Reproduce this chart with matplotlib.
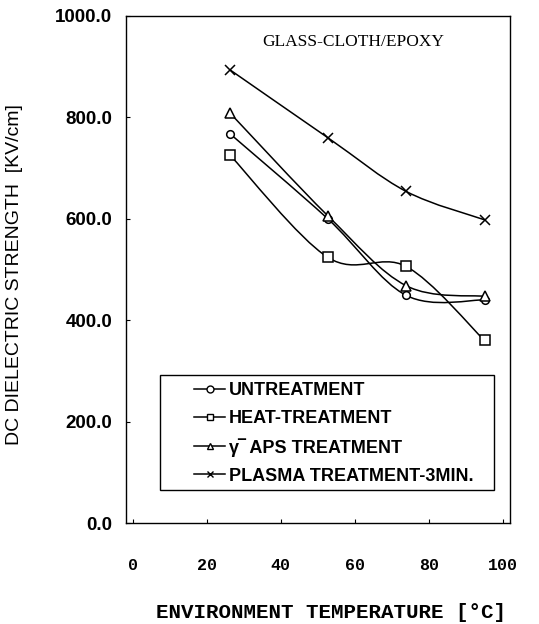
import matplotlib
matplotlib.use("Agg")
import matplotlib.pyplot as plt
from matplotlib.path import Path
from matplotlib.patches import PathPatch, Rectangle
from matplotlib.lines import Line2D

# Data
temps = [25, 50, 70, 90]
untreat = [768, 600, 449, 440]
heat = [726, 524, 506, 360]
aps = [809, 606, 468, 447]
plasma = [894, 760, 654, 598]

labels = ["UNTREATMENT", "HEAT-TREATMENT", "\u03b3\u203e APS TREATMENT",
          "PLASMA TREATMENT-3MIN."]
markers = ["o", "s", "^", "x"]
yticks = [0, 200, 400, 600, 800, 1000]
xticklabels = [0, 20, 40, 60, 80, 100]


# smooth curve through the points (catmull-rom as bezier segments)
def smooth_path(xs, ys):
    pts = list(zip(xs, ys))
    verts = [pts[0]]
    codes = [Path.MOVETO]
    n = len(pts)
    for i in range(n - 1):
        p0 = pts[i - 1] if i > 0 else pts[i]
        p1 = pts[i]
        p2 = pts[i + 1]
        p3 = pts[i + 2] if i + 2 < n else pts[i + 1]
        c1 = (p1[0] + (p2[0] - p0[0]) / 6, p1[1] + (p2[1] - p0[1]) / 6)
        c2 = (p2[0] - (p3[0] - p1[0]) / 6, p2[1] - (p3[1] - p1[1]) / 6)
        verts += [c1, c2, p2]
        codes += [Path.CURVE4] * 3
    return Path(verts, codes)


fig = plt.figure(figsize=(5.39, 6.24), dpi=100)
ax = fig.add_axes([126 / 539, 1 - 523 / 624, 384 / 539, 507 / 624])

for ys, m in zip([untreat, heat, aps, plasma], markers):
    ax.add_patch(PathPatch(smooth_path(temps, ys), fill=False, lw=1.1, ec="black"))
    ax.plot(temps, ys, ls="none", marker=m, ms=6.5 if m != "o" else 5.5,
            mfc="white", mec="black", mew=1.1)

ax.set_xlim(-1.5, 96.5)
ax.set_ylim(0, 1000)
ax.set_xticks([])
ax.set_yticks(yticks)
ax.set_yticklabels(["%.1f" % v for v in yticks], fontfamily="Liberation Sans",
                   fontweight="bold", fontsize=13.5)
ax.tick_params(axis="y", direction="in", length=3, width=0.8, pad=10)
for s in ax.spines.values():
    s.set_linewidth(1.0)

# the printed temperature scale is slightly compressed vs the data scale
sec = ax.secondary_xaxis("bottom", functions=(lambda x: x * 1.06 - 0.3,
                                              lambda u: (u + 0.3) / 1.06))
sec.set_xticks(xticklabels)
sec.set_xticklabels([str(v) for v in xticklabels], fontfamily="Liberation Mono",
                    fontweight="bold", fontsize=12)
sec.tick_params(direction="in", length=3, width=0.8, pad=25)
sec.spines["bottom"].set_visible(False)

fig.text(331 / 539, 1 - 612 / 624, "ENVIRONMENT TEMPERATURE [\u00b0C]",
         ha="center", va="center", fontfamily="Liberation Mono",
         fontweight="bold", fontsize=15)

fig.text(15 / 539, 1 - 275 / 624, "DC DIELECTRIC STRENGTH  [KV/cm]",
         rotation=90, ha="center", va="center", fontfamily="Liberation Sans",
         fontsize=14)

ax.text(0.591, 0.949, "GLASS-CLOTH/EPOXY", transform=ax.transAxes,
        ha="center", va="center", fontfamily="Liberation Serif", fontsize=12.5)

# legend
handles = [Line2D([], [], color="black", lw=1.1, marker=m, ms=5, mfc="white",
                  mec="black", mew=1.0) for m in markers]
ax.add_patch(Rectangle((0.0885, 0.065), 0.87, 0.227, transform=ax.transAxes,
                       fill=False, ec="black", lw=1.0))
leg = ax.legend(handles, labels, loc="upper left", bbox_to_anchor=(0.139, 0.306),
                frameon=False, handlelength=1.75, handletextpad=0.2,
                borderpad=0.3, labelspacing=0.6,
                prop={"family": ["Liberation Sans", "DejaVu Sans"],
                      "weight": "bold", "size": 13})

fig.savefig("out.png", dpi=100)
